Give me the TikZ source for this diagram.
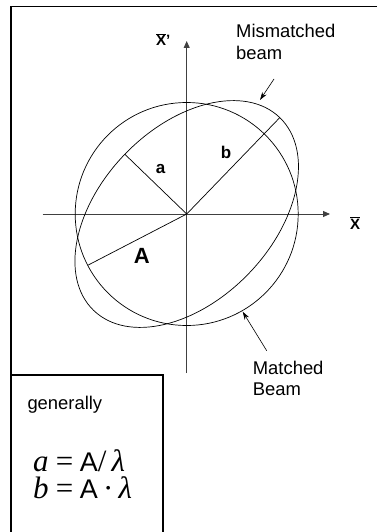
\documentclass[tikz,border=0pt]{standalone}
\usepackage{fontspec}
\setmainfont{Liberation Sans}
\newfontfamily\tms{Liberation Serif}
\usetikzlibrary{arrows.meta}

\begin{document}
\begin{tikzpicture}[
    x=1pt, y=-1pt,
    frame/.style={line width=1.3pt},
    axis/.style={-{Triangle[length=7pt,width=6pt]}, line width=0.9pt, black!75},
    beam/.style={line width=0.7pt},
    pointer/.style={-{Stealth[length=8pt,width=5pt]}, line width=0.6pt},
    lbl/.style={font=\fontsize{18.4}{21.5}\selectfont, align=left, inner sep=0pt},
    sym/.style={font=\bfseries\fontsize{17}{17}\selectfont, inner sep=0pt, anchor=base},
    axlbl/.style={font=\bfseries\fontsize{15}{15}\selectfont, inner sep=0pt, anchor=base west},
    eq/.style={inner sep=0pt, anchor=base west, font=\fontsize{27}{27}\selectfont}
]
\useasboundingbox (0,0) rectangle (377,532);

% outer frame and the side box
\draw[frame] (377,6.5) -| (11,532);
\draw[frame] (11,375) -| (163,532);

% phase space axes
\coordinate (O)  at (186.7,214);
\coordinate (xl) at (42.7,214);
\coordinate (xr) at (330,214);
\coordinate (yb) at (186.7,373);
\coordinate (yt) at (186.7,41);
\draw[axis] (xl) -- (xr);
\draw[axis] (yb) -- (yt);
\node[axlbl] (xlab)  at (350,229) {$\overline{\mbox{\bfseries X}}$};
\node[axlbl] (xplab) at (156,46)  {$\overline{\mbox{\bfseries X}}$'};

% matched and mismatched beam
\draw[beam] (O) circle [radius=111.5pt];
\draw[beam, rotate around={46:(O)}] (O) ellipse [x radius=134pt, y radius=86pt];

\path (O) ++(46:134pt)     coordinate (btip)
      (O) ++(136:86pt)     coordinate (atip)
      (O) ++(207.4:111.5pt) coordinate (Atip);
\draw[beam] (O) -- (btip);
\draw[beam] (O) -- (atip);
\draw[beam] (O) -- (Atip);
\node[sym] (alab) at (160.5,173.3) {a};
\node[sym] (blab) at (226,158.3)   {b};
\node[sym, font=\bfseries\fontsize{22}{22}\selectfont] (Alab) at (141.8,263.3) {A};

% pointers
\node[lbl, anchor=base west] (mism) at (236,37.7) {Mismatched};
\node[lbl, anchor=base west] (mism2) at (236,59.5) {beam};
\coordinate (mmtail) at (274,79);
\coordinate (mmtip)  at (260,100);
\draw[pointer] (mmtail) -- (mmtip);

\node[lbl, anchor=base west] (mat) at (252.7,374.5) {Matched};
\node[lbl, anchor=base west] (mat2) at (252.7,395.5) {Beam};
\coordinate (mtail) at (266.7,350.7);
\coordinate (mtip)  at (242.7,311.7);
\draw[pointer] (mtail) -- (mtip);

% relations
\node[lbl, anchor=base west] (gen) at (27.3,409.3) {generally};
\node[eq] (eqa) at (33,471)
  {{\tms\fontsize{31}{31}\selectfont\itshape a\,=\,}A{\tms\fontsize{31}{31}\selectfont /\,\itshape λ}};
\node[eq] (eqb) at (33,498.3)
  {{\tms\fontsize{31}{31}\selectfont\itshape b\,=\,}A{\tms\fontsize{31}{31}\selectfont\,·\,\itshape λ}};
\end{tikzpicture}
\end{document}
